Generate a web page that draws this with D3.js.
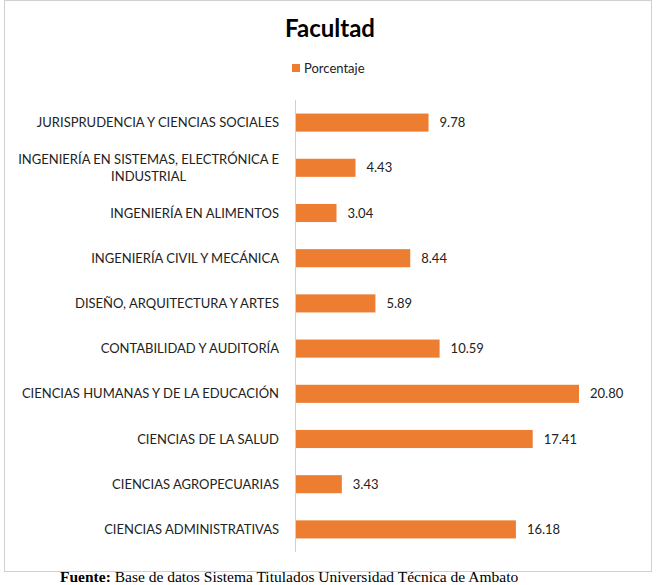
<!DOCTYPE html>
<html>
<head>
<meta charset="utf-8">
<script src="https://cdn.jsdelivr.net/npm/d3@7"></script>
<style>
body { margin: 0; background: #fff; }
svg { display: block; }
</style>
</head>
<body>
<div id="chart"></div>
<script>
// datos (de arriba hacia abajo)
var facultades = [
	"JURISPRUDENCIA Y CIENCIAS SOCIALES",
	"INGENIERÍA EN SISTEMAS, ELECTRÓNICA E|INDUSTRIAL",
	"INGENIERÍA EN ALIMENTOS",
	"INGENIERÍA CIVIL Y MECÁNICA",
	"DISEÑO, ARQUITECTURA Y ARTES",
	"CONTABILIDAD Y AUDITORÍA",
	"CIENCIAS HUMANAS Y DE LA EDUCACIÓN",
	"CIENCIAS DE LA SALUD",
	"CIENCIAS AGROPECUARIAS",
	"CIENCIAS ADMINISTRATIVAS"
];
var porcentajes = [9.78, 4.43, 3.04, 8.44, 5.89, 10.59, 20.80, 17.41, 3.43, 16.18];
var serie = "Porcentaje";

var W = 659, H = 585;
var margin = {top: 100, right: 80, bottom: 33, left: 295};
var color = "#ed7d31";
var labelFont = "Lato, 'Open Sans', sans-serif";

var svg = d3.select("#chart").append("svg")
	.attr("width", W)
	.attr("height", H);

// marco del grafico
svg.append("rect")
	.attr("x", 4.5).attr("y", 0.5)
	.attr("width", 647).attr("height", 571)
	.attr("fill", "#fff")
	.attr("stroke", "#d0d0d0");

var x = d3.scaleLinear()
	.domain([0, 20.8])
	.range([margin.left, 579]);

var y = d3.scaleBand()
	.domain(facultades)
	.range([margin.top, 552])
	.paddingInner(0.6)
	.paddingOuter(0.3);

svg.append("text")
	.attr("x", 330).attr("y", 37)
	.attr("text-anchor", "middle")
	.style("font-family", labelFont)
	.style("font-weight", "bold")
	.style("font-size", "24px")
	.attr("fill", "#000")
	.text("Facultad");

// leyenda
svg.append("rect")
	.attr("x", 292).attr("y", 64)
	.attr("width", 8).attr("height", 8)
	.attr("fill", color);
svg.append("text")
	.attr("x", 304).attr("y", 73)
	.style("font-family", labelFont)
	.style("font-size", "13px")
	.attr("fill", "#222")
	.text(serie);

svg.selectAll(".bar")
	.data(porcentajes)
	.enter().append("rect")
	.attr("class", "bar")
	.attr("x", x(0))
	.attr("y", function(d, i) { return y(facultades[i]); })
	.attr("width", function(d) { return x(d) - x(0); })
	.attr("height", y.bandwidth())
	.attr("fill", color);

svg.selectAll(".val")
	.data(porcentajes)
	.enter().append("text")
	.attr("class", "val")
	.attr("x", function(d) { return x(d) + 11; })
	.attr("y", function(d, i) { return y(facultades[i]) + y.bandwidth() / 2 + 4.5; })
	.style("font-family", labelFont)
	.style("font-size", "13px")
	.attr("fill", "#222")
	.text(function(d) { return d.toFixed(2); });

// eje vertical
var yAxis = svg.append("g")
	.attr("transform", "translate(" + margin.left + ",0)")
	.call(d3.axisLeft(y).tickSize(0).tickPadding(16));
yAxis.select(".domain").attr("stroke", "#d0d0d0").attr("d", "M0.5,100V552");
yAxis.selectAll("text").remove();
yAxis.selectAll(".tick").each(function(d) {
	var lines = d.split("|");
	var t = d3.select(this).append("text")
		.style("font-family", labelFont)
		.style("font-size", "13px")
		.attr("fill", "#222");
	lines.forEach(function(l, k) {
		t.append("tspan")
			.attr("x", -16)
			.attr("y", (k - (lines.length - 1) / 2) * 17 + 4.5)
			.attr("text-anchor", k == 0 ? "end" : "middle")
			.text(l);
	});
	// segunda linea centrada bajo la primera
	var spans = t.selectAll("tspan").nodes();
	if (spans.length > 1) {
		var w = spans[0].getComputedTextLength();
		d3.select(spans[1]).attr("x", -16 - w / 2);
	}
});

// fuente
var f = svg.append("text")
	.attr("x", 60).attr("y", 582)
	.style("font-family", "'Liberation Serif', serif")
	.style("font-size", "15.5px")
	.attr("fill", "#000");
f.append("tspan").style("font-weight", "bold").text("Fuente:");
f.append("tspan").text(" Base de datos Sistema Titulados Universidad Técnica de Ambato");
</script>
</body>
</html>
